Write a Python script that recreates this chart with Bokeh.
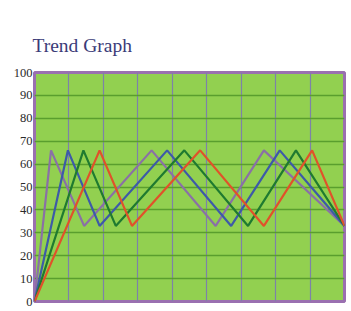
from bokeh.plotting import figure
from bokeh.models import Range1d, FixedTicker
from bokeh.embed import file_html
from bokeh.resources import INLINE

# Data
title_text = "Trend Graph"
y_ticks = [0, 10, 20, 30, 40, 50, 60, 70, 80, 90, 100]
x_ticks = [0, 1, 2, 3, 4, 5, 6, 7, 8, 9]

purple_x = [0, 0.48, 1.44, 3.40, 5.26, 6.66, 9.0]
purple_y = [0, 66, 33, 66, 33, 66, 33]
blue_x = [0, 0.97, 1.89, 3.85, 5.71, 7.12, 9.0]
blue_y = [0, 66, 33, 66, 33, 66, 33]
green_x = [0, 1.42, 2.36, 4.35, 6.20, 7.59, 9.0]
green_y = [0, 66, 33, 66, 33, 66, 33]
orange_x = [0, 1.89, 2.83, 4.81, 6.66, 8.06, 9.0]
orange_y = [0, 66, 33, 66, 33, 66, 33]

p = figure(width=348, height=308, output_backend="svg", toolbar_location=None,
           x_range=Range1d(0, 9), y_range=Range1d(0, 100),
           min_border_left=34, min_border_right=4, min_border_top=72, min_border_bottom=7,
           title=title_text)

p.title.text_font = "Liberation Serif"
p.title.text_font_size = "19.5px"
p.title.text_font_style = "normal"
p.title.text_color = "#3b3b78"
p.title.align = "left"
p.title.offset = -2
p.title.vertical_align = "top"
p.title.standoff = 30

p.background_fill_color = "#92d050"
p.border_fill_color = "white"
p.outline_line_color = "#9a70b0"
p.outline_line_width = 3

p.xaxis.visible = False
p.xaxis.ticker = FixedTicker(ticks=x_ticks)
p.yaxis.ticker = FixedTicker(ticks=y_ticks)
p.yaxis.axis_line_color = None
p.yaxis.major_tick_line_color = None
p.yaxis.minor_tick_line_color = None
p.yaxis.major_tick_out = 0
p.yaxis.major_label_standoff = 2
p.yaxis.major_label_text_font = "Liberation Serif"
p.yaxis.major_label_text_font_size = "12.5px"
p.yaxis.major_label_text_color = "#2a2a2a"

p.xgrid.grid_line_color = "#7d82a8"
p.xgrid.grid_line_width = 1.2
p.ygrid.grid_line_color = "#5a9e2e"
p.ygrid.grid_line_width = 1.5

p.line(purple_x, purple_y, line_color="#8a70a6", line_width=2.2)
p.line(blue_x, blue_y, line_color="#3d5aa8", line_width=2.2)
p.line(green_x, green_y, line_color="#1f7a30", line_width=2.2)
p.line(orange_x, orange_y, line_color="#e0522a", line_width=2.2)

open("out.html", "w").write(file_html(p, INLINE))
